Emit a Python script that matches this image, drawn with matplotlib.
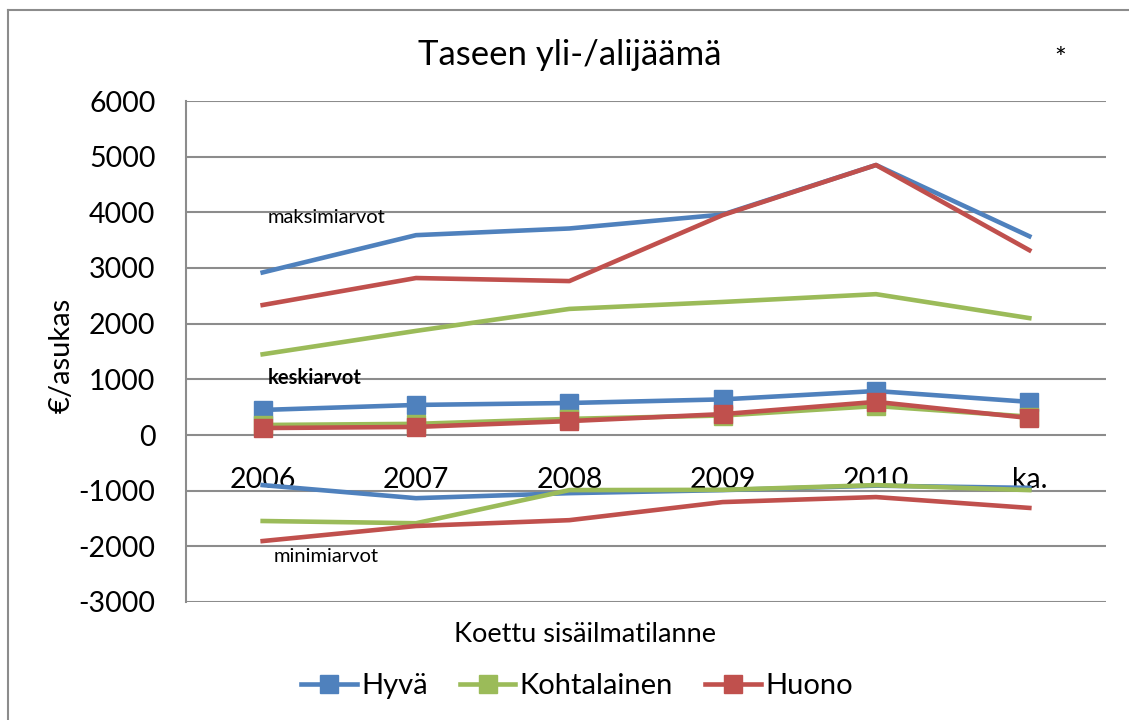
import matplotlib.pyplot as plt
from matplotlib.lines import Line2D

plt.rcParams['font.family'] = ['Lato', 'DejaVu Sans']
plt.rcParams['axes.unicode_minus'] = False

vuodet = ['2006', '2007', '2008', '2009', '2010', 'ka.']

# maksimiarvot
hyva_max = [2920, 3590, 3710, 3960, 4850, 3570]
kohta_max = [1450, 1870, 2265, 2390, 2530, 2100]
huono_max = [2335, 2820, 2765, 3950, 4850, 3320]

# keskiarvot
hyva_ka = [450, 540, 575, 640, 790, 595]
kohta_ka = [180, 200, 290, 350, 520, 330]
huono_ka = [125, 145, 250, 375, 595, 305]

# minimiarvot
hyva_min = [-900, -1135, -1045, -990, -910, -950]
kohta_min = [-1545, -1585, -990, -985, -900, -990]
huono_min = [-1905, -1635, -1530, -1205, -1115, -1310]

sininen = '#4F81BD'
vihrea = '#9BBB59'
punainen = '#C0504D'

fig = plt.figure(figsize=(11.29, 7.2), dpi=100)
# kehys vasemmalla ja ylhäällä
fig.add_artist(Line2D([8/1129, 8/1129], [0, 1 - 10/720], color='#8C8C8C', lw=1.5))
fig.add_artist(Line2D([8/1129, 1], [1 - 10/720, 1 - 10/720], color='#8C8C8C', lw=1.5))

ax = fig.add_axes([186/1129, 118/720, 920/1129, 501/720])

x = range(len(vuodet))
lw = 3.3
for ys, c in [(hyva_max, sininen), (kohta_max, vihrea), (huono_max, punainen)]:
    ax.plot(x, ys, color=c, lw=lw, zorder=3)
for ys, c in [(hyva_min, sininen), (kohta_min, vihrea), (huono_min, punainen)]:
    ax.plot(x, ys, color=c, lw=lw, zorder=3)
ax.plot(x, hyva_ka, color=sininen, lw=lw, marker='s', ms=13, zorder=4, label='Hyvä')
ax.plot(x, kohta_ka, color=vihrea, lw=lw, marker='s', ms=13, zorder=4, label='Kohtalainen')
ax.plot(x, huono_ka, color=punainen, lw=lw, marker='s', ms=13, zorder=4, label='Huono')

ax.set_xlim(-0.5, 5.5)
ax.set_ylim(-3000, 6000)
ax.set_yticks(range(-3000, 6001, 1000))
ax.grid(axis='y', color='#8C8C8C', lw=1.5)
ax.set_axisbelow(True)
for s in ['top', 'right']:
    ax.spines[s].set_visible(False)
ax.spines['left'].set_color('#8C8C8C')
ax.spines['left'].set_linewidth(1.5)
ax.spines['bottom'].set_position(('data', 0))
ax.spines['bottom'].set_visible(False)
ax.set_xticks(list(x))
ax.set_xticklabels(vuodet)
ax.tick_params(axis='x', length=0, pad=23, labelsize=20.5)
ax.tick_params(axis='y', length=0, pad=22, labelsize=20.5)

ax.text(0.03, 3800, 'maksimiarvot', fontsize=14.5)
ax.text(0.03, 1030, 'keskiarvot', fontsize=14.5, fontweight='bold', va='center')
ax.text(0.07, -2290, 'minimiarvot', fontsize=14.5)

fig.text(570/1129, 1 - 55/720, 'Taseen yli-/alijäämä', fontsize=25,
         ha='center', va='center')
fig.text(1060/1129, 1 - 60/720, '*', fontsize=20, ha='center', va='center')
fig.text(62/1129, 1 - 355/720, '€/asukas', fontsize=21, rotation=90,
         ha='center', va='center')
fig.text(585/1129, 1 - 635/720, 'Koettu sisäilmatilanne', fontsize=19.5,
         ha='center', va='center')

fig.legend(loc='center', bbox_to_anchor=(577/1129, 1 - 686/720), ncol=3,
           frameon=False, fontsize=21, handlelength=1.9, handletextpad=0.15,
           columnspacing=1.1)

fig.savefig('out.png', dpi=100)
